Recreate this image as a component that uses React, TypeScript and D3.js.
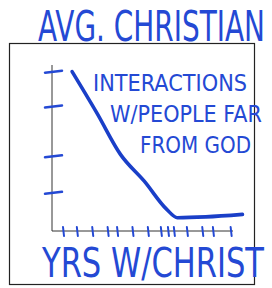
import * as d3 from "d3";

// hand-drawn sketch: years with Christ vs interactions with people far from God
const years = [1.7, 3.8, 5.8, 7.8, 9.7, 10.6, 13, 16.1];
const interactions = [9.6, 7.1, 4.6, 3.0, 1.3, 0.8, 0.85, 1.0];
const xTicks = [0.93, 2.1, 3.4, 4.7, 5.5, 6.8, 8.1, 9.2, 9.8, 10.3, 11.4, 12.7, 13.6, 15.1];
const yTicks = [2.3, 4.5, 7.5, 9.6];
const title = "AVG. CHRISTIAN";
const note = ["INTERACTIONS", "W/PEOPLE FAR", "FROM GOD"];
const xLabel = "YRS W/CHRIST";

const ink = "#2449d4";
const lineInk = "#1a3fc8";
const font = "'DejaVu Sans', sans-serif";

export default function App() {
  const width = 272;
  const height = 288;

  const x = d3.scaleLinear().domain([0, 15.3]).range([52, 233]);
  const y = d3.scaleLinear().domain([0, 10]).range([231, 65]);

  const pts = years.map((d, i) => ({ yr: d, v: interactions[i] }));
  const line = d3
    .line<{ yr: number; v: number }>()
    .x((d) => x(d.yr))
    .y((d) => y(d.v))
    .curve(d3.curveMonotoneX);

  return (
    <svg
      width={width}
      height={height}
      style={{ position: "absolute", left: 0, top: 0, background: "#fff" }}
    >
      {/* frame */}
      <rect x={9.5} y={43.5} width={245} height={241} fill="none" stroke="#222" strokeWidth={1.2} />

      {/* title */}
      <text
        x={38}
        y={41}
        fontSize={42}
        fontFamily={font}
        fill={ink}
        textLength={227}
        lengthAdjust="spacingAndGlyphs"
      >
        {title}
      </text>

      {/* axes */}
      <line x1={x(0)} x2={x(0)} y1={y(10)} y2={y(0)} stroke="#333" strokeWidth={1} />
      <line x1={x(0)} x2={x(15.3)} y1={y(0)} y2={y(0)} stroke="#333" strokeWidth={1} />

      {yTicks.map((t) => (
        <line
          key={"y" + t}
          x1={x(0) - 7}
          x2={x(0) + 10}
          y1={y(t) + 1}
          y2={y(t) - 1}
          stroke={ink}
          strokeWidth={2.5}
          strokeLinecap="round"
        />
      ))}
      {xTicks.map((t) => (
        <line
          key={"x" + t}
          x1={x(t)}
          x2={x(t) + 1}
          y1={y(0) - 4}
          y2={y(0) + 5}
          stroke={ink}
          strokeWidth={2}
          strokeLinecap="round"
        />
      ))}

      {/* curve */}
      <path
        d={line(pts) ?? ""}
        fill="none"
        stroke={lineInk}
        strokeWidth={3.6}
        strokeLinecap="round"
        strokeLinejoin="round"
      />

      {/* annotation */}
      {note.map((s, i) => (
        <text
          key={s}
          x={[93, 110, 140][i]}
          y={[91, 122, 153][i]}
          fontSize={23}
          fontFamily={font}
          fill={ink}
          textLength={[154, 152, 111][i]}
          lengthAdjust="spacingAndGlyphs"
        >
          {s}
        </text>
      ))}

      {/* x label */}
      <text
        x={42}
        y={277}
        fontSize={40}
        fontFamily={font}
        fill={ink}
        textLength={222}
        lengthAdjust="spacingAndGlyphs"
      >
        {xLabel}
      </text>
    </svg>
  );
}
